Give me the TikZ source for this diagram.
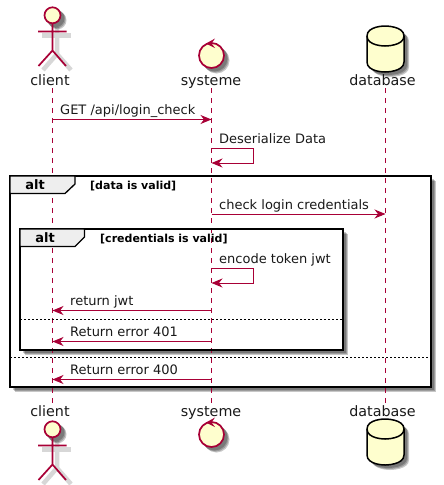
\documentclass[tikz,border=0pt]{standalone}
\usepackage{fontspec}
\setmainfont{DejaVu Sans}
\usepackage{xcolor}
\usetikzlibrary{arrows.meta}
\definecolor{roseMain}{RGB}{168,0,54}
\definecolor{jauneFill}{RGB}{254,254,206}
\definecolor{tabFill}{RGB}{238,238,238}
\definecolor{ombre}{RGB}{215,215,215}
\newcommand{\dbpath}{(367,36) .. controls (367,26) and (385,26) .. (385,26) .. controls (385,26) and (404,26) .. (404,36) -- (404,62) .. controls (404,72) and (385,72) .. (385,72) .. controls (385,72) and (367,72) .. (367,62) -- cycle}
\begin{document}
\begin{tikzpicture}[x=1pt,y=-1pt,
			label/.style={inner sep=0pt, anchor=base west, font=\fontsize{13}{15}\selectfont, text=black!90},
			head/.style={inner sep=0pt, anchor=base, font=\fontsize{14.3}{16}\selectfont, text=black!90},
			guard/.style={inner sep=0pt, anchor=base west, font=\fontsize{11}{13}\selectfont\bfseries},
			altname/.style={inner sep=0pt, anchor=base, font=\fontsize{13}{15}\selectfont\bfseries},
			frame/.style={inner sep=0pt},
			soft/.style={fill=black, fill opacity=.22},
			frameline/.style={draw=black, line width=2pt},
			tab/.style={draw=black, line width=1.3pt, fill=tabFill},
			sep/.style={draw=black, line width=.8pt, dash pattern=on 2pt off 2pt},
			life/.style={draw=roseMain, line width=.9pt, dash pattern=on 5pt off 5pt},
			msg/.style={draw=roseMain, line width=1pt, -{Stealth[length=11pt,width=9pt,inset=3.5pt]}},
			figure/.style={draw=roseMain, line width=1.7pt},
			figshadow/.style={draw=ombre, line width=4.5pt},
			]
			\useasboundingbox (0,0) rectangle (444,485);
			
			\node[frame, minimum width=421pt, minimum height=211pt] (outer) at (220.5,281.5) {};
			\node[frame, minimum width=323pt, minimum height=121pt] (inner) at (181.5,289.5) {};
			
			% soft shadows of both frames
			\foreach \s in {3,4,5} {
				\fill[soft] ([shift={(\s,\s)}]outer.north west) rectangle ([shift={(\s,\s)}]outer.south east);
			}
			\fill[white] (outer.north west) rectangle (outer.south east);
			\foreach \s in {3,4,5} {
				\fill[soft] ([shift={(\s,\s)}]inner.north west) rectangle ([shift={(\s,\s)}]inner.south east);
			}
			\fill[white] (inner.north west) rectangle (inner.south east);
			
			\node[head] (clientT) at (50,85) {client};
			\node[head] (systemeT) at (211,85) {systeme};
			\node[head] (databaseT) at (382.5,85) {database};
			\node[head] (clientB) at (50,416) {client};
			\node[head] (systemeB) at (211,416) {systeme};
			\node[head] (databaseB) at (382.5,416) {database};
			
			\coordinate (clientA) at (52.5,88);
			\coordinate (clientZ) at (52.5,403);
			\coordinate (systemeA) at (211.5,88);
			\coordinate (systemeZ) at (211.5,403);
			\coordinate (databaseA) at (385.5,88);
			\coordinate (databaseZ) at (385.5,403);
			\foreach \who in {client,systeme,database}
				\draw[life] (\who A) -- (\who Z);
			
			% figures, top then bottom
			\foreach \dy/\dc/\dd in {0/0/0, 414/379/393} {
				\begin{scope}[shift={(0,\dy)}]
					\draw[figshadow] (42,35.5) -- (71,35.5);
					\draw[figshadow] (57,27) -- (57,54) (43,70) -- (57,54) -- (71,70);
					\foreach \s in {3,4,5}
						\fill[soft] (52.5+\s,15.3+\s) circle[radius=9pt];
					\draw[figure] (52.5,23) -- (52.5,50.5) (38,31.5) -- (66.5,31.5) (38.5,66) -- (52.5,50.5) -- (66,66);
					\draw[figure, fill=jauneFill] (52.5,15.3) circle[radius=8pt];
				\end{scope}
				\begin{scope}[shift={(0,\dc)}]
					\foreach \s in {3,4,5}
						\fill[soft] (211.5+\s,55.5+\s) circle[radius=13pt];
					\draw[figure, fill=jauneFill] (211.5,55.5) circle[radius=12.5pt];
					\fill[roseMain] (215,38.5) -- (206,43.5) -- (215,48) -- (211.5,43.5) -- cycle;
				\end{scope}
				\begin{scope}[shift={(0,\dd)}]
					\foreach \s in {3,4,5}
						\fill[soft, shift={(\s,\s)}] \dbpath;
					\draw[draw=black, line width=1.5pt, fill=jauneFill] \dbpath;
					\draw[draw=black, line width=1.5pt] (367,36) .. controls (367,46) and (385,46) .. (385,46) .. controls (385,46) and (404,46) .. (404,36);
				\end{scope}
			}
			
			\draw[frameline] (outer.north west) rectangle (outer.south east);
			\draw[frameline] (inner.north west) rectangle (inner.south east);
			\draw[tab] (10,176) -- (75,176) -- (75,184) -- (65,193.5) -- (10,193.5) -- cycle;
			\draw[tab] (20,229) -- (84.5,229) -- (84.5,237) -- (75,246.5) -- (20,246.5) -- cycle;
			\node[altname] (altOuter) at (35,189) {alt};
			\node[guard] (guardOuter) at (90,189) {[data is valid]};
			\node[altname] (altInner) at (45,242.5) {alt};
			\node[guard] (guardInner) at (100,242.5) {[credentials is valid]};
			
			\coordinate (sepA) at (20,319);
			\coordinate (sepB) at (343,319);
			\coordinate (sepC) at (10,357);
			\coordinate (sepD) at (431,357);
			\draw[sep] (sepA) -- (sepB);
			\draw[sep] (sepC) -- (sepD);
			
			\node[label] (getLbl) at (60,114) {GET /api/login\_check};
			\node[label] (desLbl) at (219,143) {Deserialize Data};
			\node[label] (chkLbl) at (219,209) {check login credentials};
			\node[label] (encLbl) at (219,263) {encode token jwt};
			\node[label] (jwtLbl) at (70,305) {return jwt};
			\node[label] (e401Lbl) at (70,336) {Return error 401};
			\node[label] (e400Lbl) at (70,374) {Return error 400};
			
			\coordinate (getA) at (52.5,119.5);
			\coordinate (getB) at (211.5,119.5);
			\coordinate (desA) at (211.5,148);
			\coordinate (desB) at (253.5,148);
			\coordinate (desC) at (253.5,163);
			\coordinate (desD) at (211.5,163);
			\coordinate (chkA) at (211.5,214);
			\coordinate (chkB) at (385.5,214);
			\coordinate (encA) at (211.5,268);
			\coordinate (encB) at (253.5,268);
			\coordinate (encC) at (253.5,283);
			\coordinate (encD) at (211.5,283);
			\coordinate (jwtA) at (211.5,310.5);
			\coordinate (jwtB) at (52.5,310.5);
			\coordinate (e401A) at (211.5,341.5);
			\coordinate (e401B) at (52.5,341.5);
			\coordinate (e400A) at (211.5,379.5);
			\coordinate (e400B) at (52.5,379.5);
			
			\draw[msg] (getA) -- (getB);
			\draw[msg] (desA) -- (desB) -- (desC) -- (desD);
			\draw[msg] (chkA) -- (chkB);
			\draw[msg] (encA) -- (encB) -- (encC) -- (encD);
			\draw[msg] (jwtA) -- (jwtB);
			\draw[msg] (e401A) -- (e401B);
			\draw[msg] (e400A) -- (e400B);
		\end{tikzpicture}
\end{document}
